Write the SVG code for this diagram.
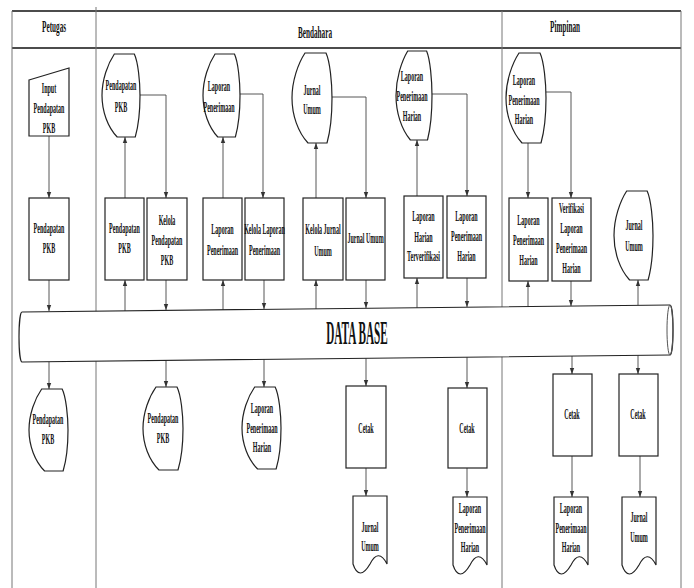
<svg xmlns="http://www.w3.org/2000/svg" xmlns:xlink="http://www.w3.org/1999/xlink" width="694" height="588" viewBox="0 0 694 588">
<style>
.bg{fill:#fff}
.lane{stroke:#777;stroke-width:1;fill:none}
.hl{stroke:#111;stroke-width:1.6;fill:none}
.box{fill:#fff;stroke:#222;stroke-width:1.2}
.shp{fill:#fff;stroke:#222;stroke-width:1.2}
.con{fill:none;stroke:#444;stroke-width:0.9;marker-end:url(#ah)}
text{font-family:"Liberation Serif","Times New Roman",serif;font-weight:bold;fill:#111;text-anchor:middle;transform-box:fill-box;transform-origin:center}
.t{font-size:14px;transform:scaleX(0.43)}
.h{font-size:16px;transform:scaleX(0.45)}
.db{font-size:33px;transform:scaleX(0.34)}
</style>
<defs>
<marker id="ah" markerWidth="6" markerHeight="6" refX="6" refY="3" orient="auto" markerUnits="userSpaceOnUse">
<path d="M0,0.8 L6,3 L0,5.2 Z" fill="#333"/>
</marker>
<symbol id="disp" viewBox="0 0 40 84" preserveAspectRatio="none" overflow="visible">
<path vector-effect="non-scaling-stroke" class="shp" d="M13,0 L34,0 C38,8 40,28 40,42 C40,58 38,74 35,84 L16,84 C6,74 0,58 0,42 C0,26 6,10 13,0 Z"/>
</symbol>
<symbol id="doc" viewBox="0 0 34 78" preserveAspectRatio="none" overflow="visible">
<path vector-effect="non-scaling-stroke" class="shp" d="M0,68 L0,0 L34,0 L34,68 C28,56 22,58 17,68 C10,80 4,80 0,68 Z"/>
</symbol>
</defs>
<rect class="bg" x="0" y="0" width="694" height="588"/>

<g id="frame">
<line class="hl" x1="12" y1="11" x2="681" y2="11"/>
<line class="hl" x1="12" y1="48" x2="681" y2="48"/>
<line class="lane" x1="12" y1="11" x2="12" y2="588"/>
<line class="lane" x1="96" y1="7" x2="96" y2="588"/>
<line class="lane" x1="502" y1="11" x2="502" y2="588"/>
<line class="lane" x1="681" y1="11" x2="681" y2="588"/>
<text class="h" x="54" y="32">Petugas</text>
<text class="h" x="315" y="38">Bendahara</text>
<text class="h" x="565" y="32">Pimpinan</text>
</g>

<g id="connectors">
<path class="con" d="M49,136 V198"/>
<path class="con" d="M49,280 V311"/>
<path class="con" d="M49,362 V389"/>
<path class="con" d="M125,198 V137"/>
<path class="con" d="M140,95 H166 V198"/>
<path class="con" d="M223,198 V137"/>
<path class="con" d="M240,94 H263 V198"/>
<path class="con" d="M316,198 V143"/>
<path class="con" d="M332,97 H366 V198"/>
<path class="con" d="M417,196 V140"/>
<path class="con" d="M432,94 H467 V196"/>
<path class="con" d="M528,143 V198"/>
<path class="con" d="M546,92 H571 V198"/>
<path class="con" d="M125,311 V280"/>
<path class="con" d="M166,280 V310"/>
<path class="con" d="M223,310 V280"/>
<path class="con" d="M264,280 V309"/>
<path class="con" d="M316,309 V280"/>
<path class="con" d="M366,280 V308"/>
<path class="con" d="M417,308 V278"/>
<path class="con" d="M467,278 V307"/>
<path class="con" d="M528,306 V281"/>
<path class="con" d="M571,281 V306"/>
<path class="con" d="M638,305 V280"/>
<path class="con" d="M166,360 V387"/>
<path class="con" d="M264,359 V387"/>
<path class="con" d="M366,358 V386"/>
<path class="con" d="M467,357 V388"/>
<path class="con" d="M572,356 V374"/>
<path class="con" d="M638,355 V374"/>
<path class="con" d="M366,468 V496"/>
<path class="con" d="M467,468 V497"/>
<path class="con" d="M572,456 V497"/>
<path class="con" d="M640,456 V497"/>
</g>

<g id="database">
<path class="shp" d="M22,312 L670,305 A3,25 0 0 1 670,355 L22,362 A3,25 0 0 1 22,312 Z"/>
<ellipse cx="670" cy="330" rx="3" ry="25" fill="none" stroke="#555" stroke-width="1"/>
<text class="db" x="357" y="344">DATA BASE</text>
</g>

<!-- Petugas -->
<g id="p-input">
<path class="shp" d="M29,80 L69,68 L69,136 L29,136 Z"/>
<text class="t" x="49" y="93"><tspan x="49">Input</tspan><tspan x="49" dy="20">Pendapatan</tspan><tspan x="49" dy="20">PKB</tspan></text>
</g>
<g id="p-rect">
<rect class="box" x="29" y="198" width="40" height="82"/>
<text class="t" x="49" y="233"><tspan x="49">Pendapatan</tspan><tspan x="49" dy="20">PKB</tspan></text>
</g>
<g id="p-disp">
<use href="#disp" x="29" y="389" width="39" height="82"/>
<text class="t" x="48" y="424"><tspan x="48">Pendapatan</tspan><tspan x="48" dy="20">PKB</tspan></text>
</g>

<!-- Bendahara top displays -->
<g id="b-disp-pkb">
<use href="#disp" x="102" y="54" width="38" height="83"/>
<text class="t" x="121" y="90"><tspan x="121">Pendapatan</tspan><tspan x="121" dy="22">PKB</tspan></text>
</g>
<g id="b-disp-lp">
<use href="#disp" x="203" y="54" width="37" height="83"/>
<text class="t" x="219" y="91"><tspan x="219">Laporan</tspan><tspan x="219" dy="21">Penerimaan</tspan></text>
</g>
<g id="b-disp-ju">
<use href="#disp" x="292" y="53" width="40" height="90"/>
<text class="t" x="312" y="95"><tspan x="312">Jurnal</tspan><tspan x="312" dy="19">Umum</tspan></text>
</g>
<g id="b-disp-lph">
<use href="#disp" x="396" y="51" width="36" height="89"/>
<text class="t" x="412" y="81"><tspan x="412">Laporan</tspan><tspan x="412" dy="20">Penerimaan</tspan><tspan x="412" dy="20">Harian</tspan></text>
</g>

<!-- Bendahara rects -->
<g id="b-r-pkb">
<rect class="box" x="105" y="198" width="39" height="82"/>
<text class="t" x="124.5" y="233"><tspan x="124.5">Pendapatan</tspan><tspan x="124.5" dy="20">PKB</tspan></text>
</g>
<g id="b-r-kpkb">
<rect class="box" x="147" y="198" width="40" height="82"/>
<text class="t" x="167" y="225"><tspan x="167">Kelola</tspan><tspan x="167" dy="20">Pendapatan</tspan><tspan x="167" dy="20">PKB</tspan></text>
</g>
<g id="b-r-lp">
<rect class="box" x="203" y="198" width="39" height="82"/>
<text class="t" x="222.5" y="234"><tspan x="222.5">Laporan</tspan><tspan x="222.5" dy="21">Penerimaan</tspan></text>
</g>
<g id="b-r-klp">
<rect class="box" x="245" y="198" width="39" height="82"/>
<text class="t" x="264.5" y="234"><tspan x="264.5">Kelola Laporan</tspan><tspan x="264.5" dy="21">Penerimaan</tspan></text>
</g>
<g id="b-r-kju">
<rect class="box" x="303" y="198" width="40" height="82"/>
<text class="t" x="323" y="234"><tspan x="323">Kelola Jurnal</tspan><tspan x="323" dy="22">Umum</tspan></text>
</g>
<g id="b-r-ju">
<rect class="box" x="346" y="198" width="39" height="82"/>
<text class="t" x="365.5" y="243">Jurnal Umum</text>
</g>
<g id="b-r-lht">
<rect class="box" x="404" y="196" width="39" height="82"/>
<text class="t" x="423.5" y="221"><tspan x="423.5">Laporan</tspan><tspan x="423.5" dy="21">Harian</tspan><tspan x="423.5" dy="19">Terverifikasi</tspan></text>
</g>
<g id="b-r-lph">
<rect class="box" x="447" y="196" width="39" height="82"/>
<text class="t" x="466.5" y="221"><tspan x="466.5">Laporan</tspan><tspan x="466.5" dy="20">Penerimaan</tspan><tspan x="466.5" dy="20">Harian</tspan></text>
</g>

<!-- Pimpinan top -->
<g id="m-disp-lph">
<use href="#disp" x="506" y="53" width="40" height="90"/>
<text class="t" x="524" y="85"><tspan x="524">Laporan</tspan><tspan x="524" dy="20">Penerimaan</tspan><tspan x="524" dy="19">Harian</tspan></text>
</g>
<g id="m-r-lph">
<rect class="box" x="509" y="198" width="39" height="83"/>
<text class="t" x="528.5" y="225"><tspan x="528.5">Laporan</tspan><tspan x="528.5" dy="20">Penerimaan</tspan><tspan x="528.5" dy="20">Harian</tspan></text>
</g>
<g id="m-r-ver">
<rect class="box" x="552" y="198" width="39" height="83"/>
<text class="t" x="571.5" y="213"><tspan x="571.5">Verifikasi</tspan><tspan x="571.5" dy="20">Laporan</tspan><tspan x="571.5" dy="20">Penerimaan</tspan><tspan x="571.5" dy="20">Harian</tspan></text>
</g>
<g id="m-disp-ju">
<use href="#disp" x="614" y="191" width="39" height="89"/>
<text class="t" x="634" y="230"><tspan x="634">Jurnal</tspan><tspan x="634" dy="21">Umum</tspan></text>
</g>

<!-- Bottom row -->
<g id="b-disp-pkb2">
<use href="#disp" x="143" y="387" width="40" height="83"/>
<text class="t" x="163" y="423"><tspan x="163">Pendapatan</tspan><tspan x="163" dy="20">PKB</tspan></text>
</g>
<g id="b-disp-lph2">
<use href="#disp" x="242" y="387" width="39" height="82"/>
<text class="t" x="262" y="413"><tspan x="262">Laporan</tspan><tspan x="262" dy="20">Penerimaan</tspan><tspan x="262" dy="19">Harian</tspan></text>
</g>
<g id="b-cetak1">
<rect class="box" x="346" y="386" width="40" height="82"/>
<text class="t" x="366" y="433">Cetak</text>
</g>
<g id="b-doc-ju">
<use href="#doc" x="353" y="496" width="34" height="78"/>
<text class="t" x="370" y="532"><tspan x="370">Jurnal</tspan><tspan x="370" dy="19">Umum</tspan></text>
</g>
<g id="b-cetak2">
<rect class="box" x="448" y="388" width="39" height="80"/>
<text class="t" x="467" y="433">Cetak</text>
</g>
<g id="b-doc-lph">
<use href="#doc" x="453" y="497" width="34" height="78"/>
<text class="t" x="470" y="513"><tspan x="470">Laporan</tspan><tspan x="470" dy="20">Penerimaan</tspan><tspan x="470" dy="19">Harian</tspan></text>
</g>
<g id="m-cetak1">
<rect class="box" x="553" y="374" width="39" height="82"/>
<text class="t" x="572" y="419">Cetak</text>
</g>
<g id="m-doc-lph">
<use href="#doc" x="554" y="497" width="34" height="78"/>
<text class="t" x="571" y="513"><tspan x="571">Laporan</tspan><tspan x="571" dy="20">Penerimaan</tspan><tspan x="571" dy="19">Harian</tspan></text>
</g>
<g id="m-cetak2">
<rect class="box" x="619" y="374" width="39" height="82"/>
<text class="t" x="638" y="419">Cetak</text>
</g>
<g id="m-doc-ju">
<use href="#doc" x="622" y="497" width="34" height="78"/>
<text class="t" x="639" y="522"><tspan x="639">Jurnal</tspan><tspan x="639" dy="20">Umum</tspan></text>
</g>
</svg>
